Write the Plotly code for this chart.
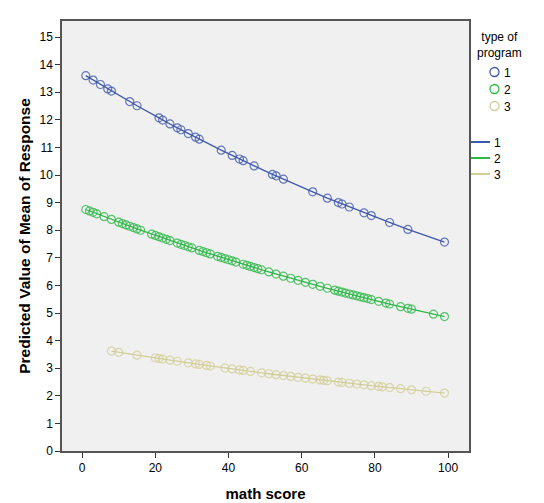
import plotly.graph_objects as go

# ---- data ----
prog_labels = ["1", "2", "3"]

x_prog1 = [1, 3, 5, 7, 8, 13, 15, 21, 22, 24, 26, 27, 29, 31, 32, 38, 41, 43, 44, 47,
           52, 53, 55, 63, 67, 70, 71, 73, 77, 79, 84, 89, 99]
y_prog1 = [13.60, 13.44, 13.28, 13.12, 13.04, 12.66, 12.51, 12.07, 11.99, 11.85, 11.71,
           11.64, 11.50, 11.37, 11.30, 10.90, 10.71, 10.58, 10.52, 10.33, 10.02, 9.97,
           9.85, 9.39, 9.16, 9.00, 8.95, 8.84, 8.63, 8.53, 8.28, 8.03, 7.57]

x_prog2 = [1, 2, 3, 4, 6, 8, 10, 11, 12, 13, 14, 15, 16, 19, 20, 21, 22, 23, 24, 26, 27,
           28, 29, 30, 32, 33, 34, 35, 37, 38, 39, 40, 41, 42, 44, 45, 46, 47, 48, 49, 51,
           53, 55, 57, 59, 61, 63, 65, 67, 69, 70, 71, 72, 73, 74, 75, 76, 77, 78, 79, 81,
           83, 84, 87, 89, 90, 96, 99]
y_prog2 = [8.750, 8.698, 8.646, 8.594, 8.492, 8.391, 8.292, 8.242, 8.193, 8.144, 8.096,
           8.047, 7.999, 7.857, 7.810, 7.764, 7.717, 7.671, 7.626, 7.535, 7.490, 7.445,
           7.401, 7.357, 7.269, 7.226, 7.183, 7.140, 7.055, 7.013, 6.971, 6.930, 6.889,
           6.847, 6.766, 6.726, 6.686, 6.646, 6.606, 6.567, 6.489, 6.411, 6.335, 6.260,
           6.185, 6.112, 6.039, 5.967, 5.896, 5.826, 5.791, 5.757, 5.723, 5.688, 5.655,
           5.621, 5.587, 5.554, 5.521, 5.488, 5.423, 5.358, 5.326, 5.231, 5.169, 5.139,
           4.957, 4.869]

x_prog3 = [8, 10, 15, 20, 21, 22, 24, 26, 29, 31, 32, 34, 35, 39, 41, 43, 44, 46, 49, 51,
           53, 55, 57, 59, 61, 63, 65, 66, 67, 70, 71, 73, 75, 77, 79, 81, 82, 84, 87, 90,
           94, 99]
y_prog3 = [3.620, 3.577, 3.472, 3.369, 3.349, 3.329, 3.290, 3.251, 3.193, 3.155, 3.136,
           3.099, 3.080, 3.007, 2.972, 2.936, 2.919, 2.884, 2.833, 2.799, 2.766, 2.733,
           2.701, 2.668, 2.637, 2.605, 2.574, 2.559, 2.544, 2.498, 2.484, 2.454, 2.425,
           2.396, 2.367, 2.339, 2.325, 2.298, 2.257, 2.217, 2.164, 2.100]

y_ticks = list(range(0, 16))
x_ticks = [0, 20, 40, 60, 80, 100]
legend_title = "type of<br>program"

colors = ["#3E58AC", "#2EB848", "#D3CE97"]
series = [(x_prog1, y_prog1), (x_prog2, y_prog2), (x_prog3, y_prog3)]

FONT = "Liberation Sans, Arial, sans-serif"

fig = go.Figure()

for lab, (xs, ys), c in zip(prog_labels, series, colors):
    fig.add_trace(go.Scatter(
        x=xs, y=ys, mode="lines", name=lab, showlegend=False,
        line=dict(color=c, width=1.3), hoverinfo="skip",
    ))
for lab, (xs, ys), c in zip(prog_labels, series, colors):
    fig.add_trace(go.Scatter(
        x=xs, y=ys, mode="markers", name=lab, showlegend=False,
        marker=dict(symbol="circle-open", size=8, color=c, opacity=0.8,
                    line=dict(width=1.2, color=c)),
    ))

# ---- hand-drawn legend (SPSS style) ----
W, H = 544, 503
ML, MR, MT, MB = 62, 75, 21, 52
PW, PH = W - ML - MR, H - MT - MB


def px(xp):
    return (xp - ML) / PW


def py(yp):
    return (H - MB - yp) / PH


shapes = []
annotations = []
annotations.append(dict(
    text=legend_title, xref="paper", yref="paper", x=px(499), y=py(28),
    xanchor="center", yanchor="top", showarrow=False, align="center",
    font=dict(family=FONT, size=12, color="#000"),
))
circle_y = [72, 89, 106]
line_y = [142, 158, 174]
for lab, c, cy, ly in zip(prog_labels, colors, circle_y, line_y):
    shapes.append(dict(
        type="circle", xref="paper", yref="paper", xsizemode="pixel", ysizemode="pixel",
        xanchor=px(494.5), yanchor=py(cy), x0=-4.5, x1=4.5, y0=-4.5, y1=4.5,
        line=dict(color=c, width=1.3), fillcolor="rgba(0,0,0,0)",
    ))
    annotations.append(dict(
        text=lab, xref="paper", yref="paper", x=px(502), y=py(cy + 1),
        xanchor="left", yanchor="middle", showarrow=False,
        font=dict(family=FONT, size=12, color="#000"),
    ))
    shapes.append(dict(
        type="line", xref="paper", yref="paper", x0=px(471), x1=px(490),
        y0=py(ly), y1=py(ly), line=dict(color=c, width=2),
    ))
    annotations.append(dict(
        text=lab, xref="paper", yref="paper", x=px(492), y=py(ly + 1),
        xanchor="left", yanchor="middle", showarrow=False,
        font=dict(family=FONT, size=12, color="#000"),
    ))

fig.update_layout(
    width=W, height=H,
    margin=dict(l=ML, r=MR, t=MT, b=MB, autoexpand=False),
    paper_bgcolor="white",
    plot_bgcolor="#F0F0F0",
    font=dict(family=FONT, size=12, color="#000"),
    showlegend=False,
    shapes=shapes,
    annotations=annotations,
    xaxis=dict(
        range=[-5.5, 105.7], tickvals=x_ticks, ticks="outside", ticklen=5,
        tickcolor="#333", showgrid=False, zeroline=False, automargin=False,
        showline=True, mirror=True, linecolor="#555", linewidth=1.5,
        title=dict(text="<b>math score</b>", standoff=14,
                   font=dict(family=FONT, size=15)),
    ),
    yaxis=dict(
        range=[0, 15.58], tickvals=y_ticks, ticks="outside", ticklen=5,
        tickcolor="#333", showgrid=False, zeroline=False, automargin=False,
        showline=True, mirror=True, linecolor="#555", linewidth=1.5,
        title=dict(text="<b>Predicted Value of Mean of Response</b>", standoff=5,
                   font=dict(family=FONT, size=15.5)),
    ),
)

fig.write_html("out.html")
